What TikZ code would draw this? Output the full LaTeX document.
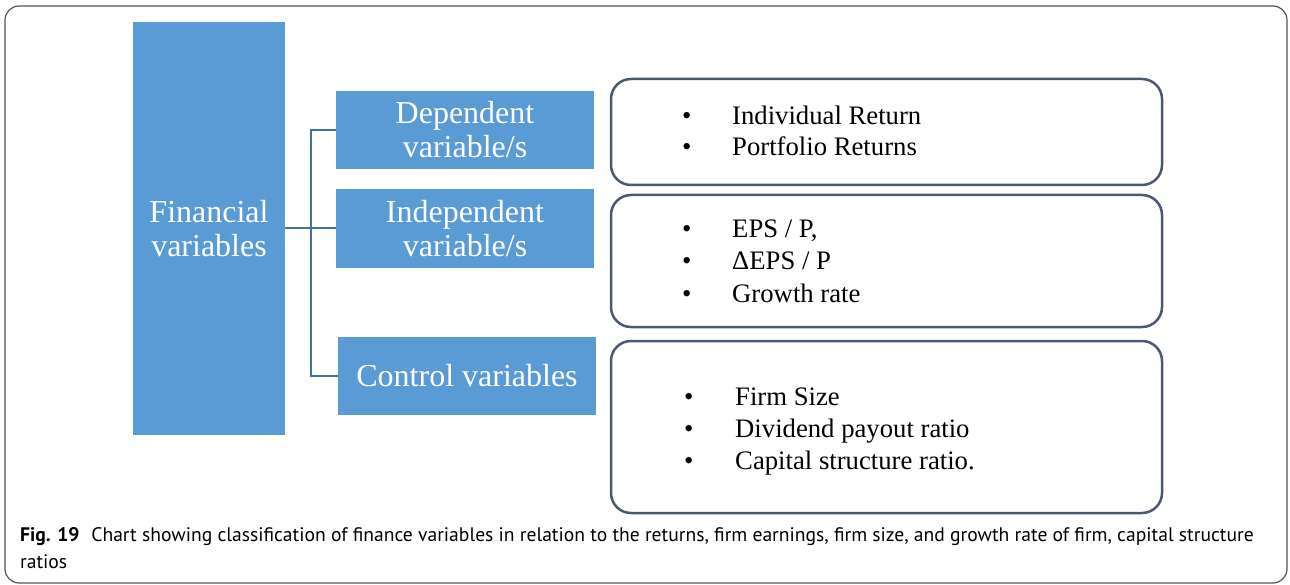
\documentclass[tikz,border=0pt]{standalone}
\usepackage{fontspec}
\setmainfont{Liberation Serif}
\newfontfamily\capfont{PT Sans}
\definecolor{boxblue}{HTML}{5B9BD5}
\definecolor{linkblue}{HTML}{41719C}
\definecolor{frameslate}{HTML}{4A5872}
\definecolor{framegray}{HTML}{555555}
\tikzset{
  varbox/.style={fill=boxblue, text=white, align=center, inner sep=0pt,
    font=\fontsize{32}{34}\selectfont},
  listbox/.style={draw=frameslate, line width=2.5pt, rounded corners=20pt, inner sep=0pt},
  link/.style={draw=linkblue, line width=2pt},
  item/.style={anchor=base west, inner sep=0pt, font=\fontsize{26.7}{31}\selectfont},
}
\begin{document}
\begin{tikzpicture}[x=1pt,y=-1pt]
\useasboundingbox (0,0) rectangle (1290,585);
\draw[framegray, line width=1.2pt, rounded corners=14pt] (5,6) rectangle (1287,583);
\node[varbox, minimum width=152pt, minimum height=413pt] (fin) at (209,228.5) {Financial\\variables};
\node[varbox, minimum width=258pt, minimum height=78pt] (dep) at (465,130) {Dependent\\variable/s};
\node[varbox, minimum width=258pt, minimum height=79pt] (ind) at (465,228.5) {Independent\\variable/s};
\node[varbox, minimum width=258pt, minimum height=78pt] (ctl) at (467,376) {Control variables};
\coordinate (j) at (311,228.5);
\draw[link] (fin.east) -- (ind.west);
\draw[link] (dep.west) -| (j) |- (ctl.west);
\node[listbox, minimum width=551pt, minimum height=106pt] (ret) at (886.5,132) {};
\node[listbox, minimum width=551pt, minimum height=132pt] (ern) at (886.5,261) {};
\node[listbox, minimum width=551pt, minimum height=172pt] (siz) at (886.5,427) {};
\foreach \y/\t [count=\i] in {125/Individual Return, 156/Portfolio Returns}{
  \node[item] (rb\i) at (682,\y) {\textbullet};
  \node[item] (rt\i) at (732,\y) {\t};
}
\foreach \y/\t [count=\i] in {238/{EPS / P,}, 270/{ΔEPS / P}, 302/Growth rate}{
  \node[item] (eb\i) at (682,\y) {\textbullet};
  \node[item] (et\i) at (732,\y) {\t};
}
\foreach \y/\t [count=\i] in {405/Firm Size, 437/Dividend payout ratio, 469/Capital structure ratio.}{
  \node[item] (sb\i) at (684,\y) {\textbullet};
  \node[item] (st\i) at (735,\y) {\t};
}
\node[anchor=base west, inner sep=0pt, align=left, font=\capfont\fontsize{19.6}{26.5}\selectfont] (cap) at (20,568)
  {\textbf{Fig. 19}\hspace{0.6em}Chart showing classification of finance variables in relation to the returns, firm earnings, firm size, and growth rate of firm, capital structure\\ratios};
\end{tikzpicture}
\end{document}
